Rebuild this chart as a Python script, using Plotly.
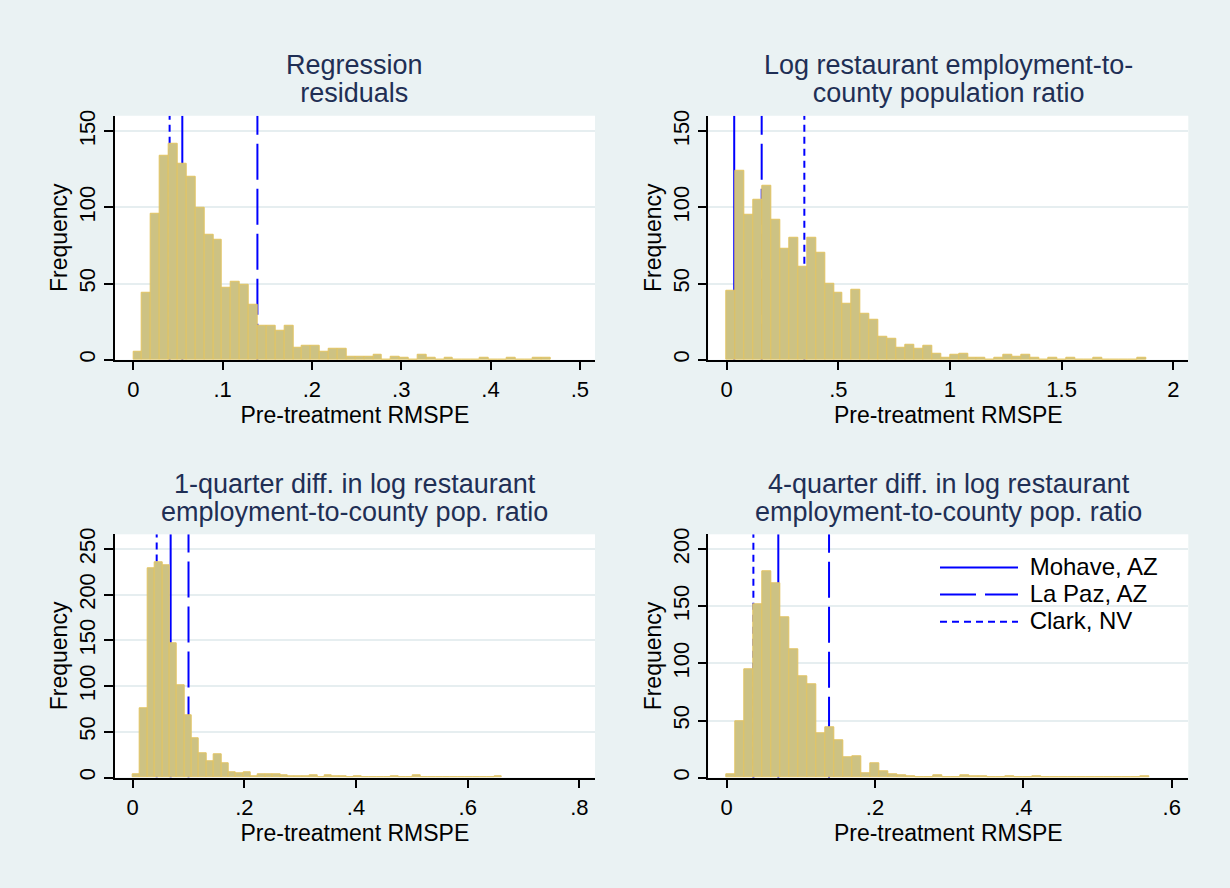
import plotly.graph_objects as go

# ---------------- data ----------------
titles = [
    ["Regression", "residuals"],
    ["Log restaurant employment-to-", "county population ratio"],
    ["1-quarter diff. in log restaurant", "employment-to-county pop. ratio"],
    ["4-quarter diff. in log restaurant", "employment-to-county pop. ratio"],
]

# histogram bin start and width per panel
bin_start = [0.0, 0.0, 0.0, 0.0]
bin_width = [0.00995, 0.04, 0.01322, 0.01213]

counts_resid = [5, 44, 96, 134, 142, 129, 120, 100, 82, 79, 47, 51, 49, 36, 22, 22, 19, 22,
                8, 9, 9, 5, 7, 7, 2, 2, 2, 3, 0, 2, 1, 0, 3, 1, 0, 1, 0, 0, 0, 1, 0, 0, 1,
                0, 0, 1, 1]
counts_logratio = [45, 124, 95, 105, 114, 92, 73, 80, 61, 80, 70, 50, 44, 37, 46, 30, 26, 15,
                   14, 8, 10, 7, 9, 4, 1, 3, 4, 1, 1, 0, 1, 3, 2, 3, 1, 0, 1, 0, 1, 0, 0, 1,
                   0, 0, 0, 0, 1]
counts_diff1q = [4, 76, 229, 236, 232, 147, 101, 68, 43, 26, 18, 25, 16, 6, 5, 6, 1, 3, 4, 4,
                 2, 1, 1, 1, 2, 0, 2, 1, 1, 0, 1, 0, 0, 0, 0, 1, 0, 0, 2, 0, 0, 0, 0, 0, 0,
                 0, 0, 0, 0, 1]
counts_diff4q = [3, 49, 95, 152, 181, 170, 140, 112, 89, 82, 39, 44, 33, 18, 19, 4, 13, 6, 3,
                 2, 1, 0, 0, 2, 0, 0, 2, 1, 1, 0, 0, 1, 0, 0, 1, 0, 0, 0, 0, 0, 0, 0, 0, 0,
                 0, 0, 1]
counts = [counts_resid, counts_logratio, counts_diff1q, counts_diff4q]

# treated-county pre-treatment RMSPE (vertical lines)
county_names = ["Mohave, AZ", "La Paz, AZ", "Clark, NV"]
county_rmspe = [
    [0.0549, 0.139, 0.0407],
    [0.034, 0.157, 0.348],
    [0.068, 0.100, 0.043],
    [0.0696, 0.138, 0.036],
]

xtick_vals = [
    [0, 0.1, 0.2, 0.3, 0.4, 0.5],
    [0, 0.5, 1, 1.5, 2],
    [0, 0.2, 0.4, 0.6, 0.8],
    [0, 0.2, 0.4, 0.6],
]
xtick_text = [
    ["0", ".1", ".2", ".3", ".4", ".5"],
    ["0", ".5", "1", "1.5", "2"],
    ["0", ".2", ".4", ".6", ".8"],
    ["0", ".2", ".4", ".6"],
]
ytick_vals = [
    [0, 50, 100, 150],
    [0, 50, 100, 150],
    [0, 50, 100, 150, 200, 250],
    [0, 50, 100, 150, 200],
]

# ---------------- layout parameters ----------------
W, H = 1230, 888
px_left = [114.7, 708.3, 114.7, 708.3]
px_right = [595.0, 1188.3, 595.0, 1188.3]
px_top = [110.0, 110.0, 533.3, 533.3]
px_bot = [356.7, 356.7, 779.3, 779.5]
x_ranges = [[-0.0208, 0.517], [-0.082, 2.067], [-0.0322, 0.828], [-0.0248, 0.6224]]
y_ranges = [[0, 160.2], [0, 160.2], [0, 266.2], [0, 213.0]]

FONT = "Liberation Sans, Arial, sans-serif"
BAR_FILL = "#CDC283"
BAR_EDGE = "#E2C463"
LINE_BLUE = "#0000FF"
dash_styles = ["solid", "36px,9px", "7px,5px"]
TITLE_COLOR = "#1F2F55"
BG = "#EAF2F3"

fig = go.Figure()


def ax_names(i):
    return ("x" if i == 0 else f"x{i+1}", "y" if i == 0 else f"y{i+1}")


for p in range(4):
    xa, ya = ax_names(p)          # base axes: reference lines (drawn first, behind)
    xo, yo = ax_names(p + 4)      # overlay axes: histogram bars (drawn on top)
    for k, name in enumerate(county_names):
        v = county_rmspe[p][k]
        fig.add_trace(go.Scatter(
            x=[v, v], y=[y_ranges[p][0], y_ranges[p][1]],
            mode="lines",
            name="<span style='font-size:24px'>\u00a0" + name + "</span>",
            line=dict(color=LINE_BLUE, width=2, dash=dash_styles[k]),
            xaxis=xa, yaxis=ya, showlegend=(p == 3), hoverinfo="skip",
        ))
    c = counts[p]
    centers = [bin_start[p] + bin_width[p] * (i + 0.5) for i in range(len(c))]
    fig.add_trace(go.Bar(
        x=centers, y=c, width=bin_width[p],
        marker=dict(color=BAR_FILL, line=dict(color=BAR_EDGE, width=1)),
        xaxis=xo, yaxis=yo, showlegend=False,
    ))

layout = dict(
    width=W, height=H,
    margin=dict(l=0, r=0, t=0, b=0),
    paper_bgcolor=BG, plot_bgcolor="white",
    font=dict(family=FONT, color="black"),
    showlegend=True,
    legend=dict(
        x=935 / W, y=1 - 548 / H, xanchor="left", yanchor="top",
        bgcolor="rgba(0,0,0,0)", borderwidth=0, itemwidth=78,
        font=dict(family=FONT, size=18.6, color="black"),
        traceorder="normal",
    ),
    bargap=0,
)

annotations = []
for p in range(4):
    xk = "xaxis" if p == 0 else f"xaxis{p+1}"
    yk = "yaxis" if p == 0 else f"yaxis{p+1}"
    xa, ya = ax_names(p)
    xo, yo = ax_names(p + 4)
    layout[xk] = dict(
        domain=[px_left[p] / W, px_right[p] / W],
        range=x_ranges[p], anchor=ya,
        tickvals=xtick_vals[p], ticktext=xtick_text[p],
        showline=True, linecolor="black", linewidth=1.5,
        ticks="outside", ticklen=9, tickwidth=1.5, tickcolor="black",
        showgrid=False, zeroline=False,
        tickfont=dict(family=FONT, size=22, color="black"),
        title=dict(text="Pre-treatment RMSPE", standoff=0,
                   font=dict(family=FONT, size=23, color="black")),
    )
    layout[yk] = dict(
        domain=[1 - px_bot[p] / H, 1 - px_top[p] / H],
        range=y_ranges[p], anchor=xa,
        tickvals=ytick_vals[p],
        showline=True, linecolor="black", linewidth=1.5,
        ticks="outside", ticklen=9, tickwidth=1.5, tickcolor="black",
        showgrid=True, gridcolor="#E6EEF0", gridwidth=2, zeroline=False,
        tickangle=-90,
        tickfont=dict(family=FONT, size=22, color="black"),
        title=dict(text="Frequency", standoff=1,
                   font=dict(family=FONT, size=23, color="black")),
    )
    xok = f"xaxis{p+5}"
    yok = f"yaxis{p+5}"
    layout[xok] = dict(overlaying=xa, range=x_ranges[p], anchor=yo, visible=False,
                       showgrid=False, zeroline=False)
    layout[yok] = dict(overlaying=ya, range=y_ranges[p], anchor=xo, visible=False,
                       showgrid=False, zeroline=False)

    cx = (px_left[p] + px_right[p]) / 2 / W
    cy = px_top[p] - 37.0
    txt = "<br>".join("<span style='font-size:27px'>" + t + "</span>" for t in titles[p])
    annotations.append(dict(
        text=txt, x=cx, y=1 - cy / H, xref="paper", yref="paper",
        xanchor="center", yanchor="middle", showarrow=False,
        font=dict(family=FONT, size=21.2, color=TITLE_COLOR),
    ))

layout["annotations"] = annotations
fig.update_layout(**layout)

fig.write_html("out.html")
